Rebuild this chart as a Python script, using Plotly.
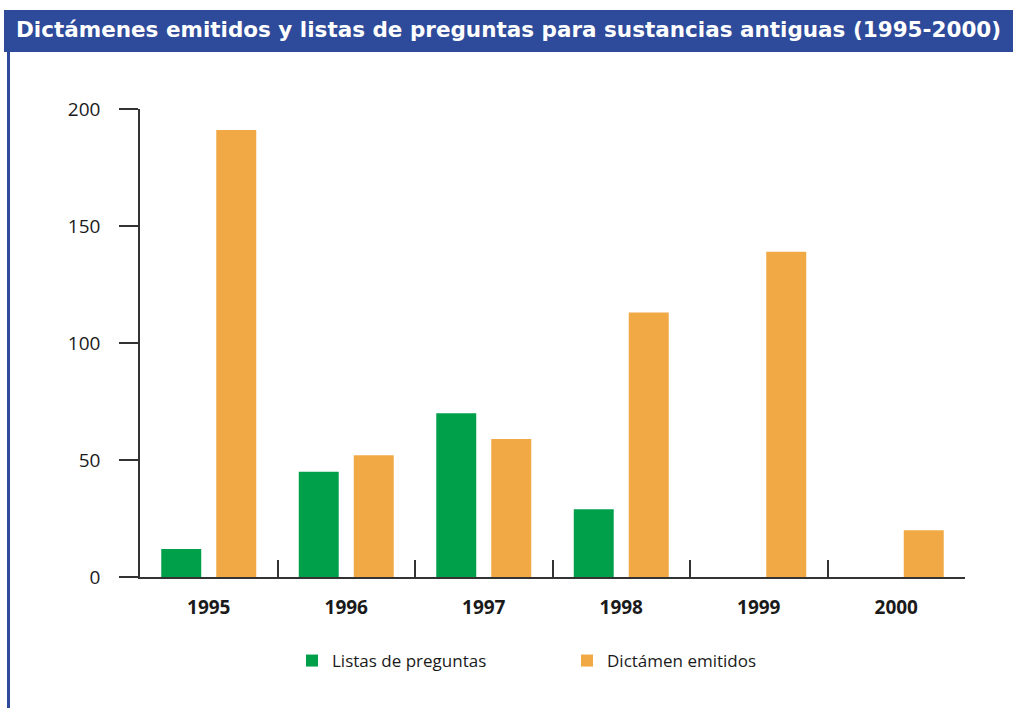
import plotly.graph_objects as go

years = ["1995", "1996", "1997", "1998", "1999", "2000"]
listas = [12, 45, 70, 29, None, None]
dictamen = [191, 52, 59, 113, 139, 20]
y_ticks = [0, 50, 100, 150, 200]

title_text = "Dictámenes emitidos y listas de preguntas para sustancias antiguas (1995-2000)"
name_listas = "Listas de preguntas"
name_dictamen = "Dictámen emitidos"

W, H = 1013, 708
L, R, T, B = 140, 48, 109, 131
pw, ph = W - L - R, H - T - B
FONT = "'Open Sans', sans-serif"


def px(x):
    return (x - L) / pw


def py(y):
    return (H - B - y) / ph


fig = go.Figure()
fig.add_trace(go.Bar(x=years, y=listas, name=name_listas, marker_color="#00A04B",
                     marker_line_width=0))
fig.add_trace(go.Bar(x=years, y=dictamen, name=name_dictamen, marker_color="#F0A944",
                     marker_line_width=0))

fig.update_layout(
    width=W, height=H,
    margin=dict(l=L, r=R, t=T, b=B, pad=0),
    paper_bgcolor="white", plot_bgcolor="white",
    barmode="group", bargap=0.2, bargroupgap=0.273,
    font=dict(family=FONT, color="#1a1a1a"),
    showlegend=True,
    legend=dict(orientation="h", x=px(292), y=py(661), xanchor="left", yanchor="middle",
                entrywidth=230, entrywidthmode="pixels",
                font=dict(size=17, color="#1a1a1a", family=FONT), bgcolor="rgba(0,0,0,0)"),
    xaxis=dict(type="category", showgrid=False, showline=True, linecolor="#333333",
               linewidth=1.5, ticks="inside", tickson="boundaries", ticklen=17,
               tickwidth=1.5, tickcolor="#333333",
               tickfont=dict(size=19, color="#1a1a1a", family=FONT, weight="bold"),
               ticklabelstandoff=12),
    yaxis=dict(range=[0, 200], tickvals=y_ticks, showgrid=False, zeroline=False,
               showline=True, linecolor="#333333", linewidth=1.5, ticks="outside",
               ticklen=19, tickwidth=1.5, tickcolor="#333333",
               tickfont=dict(size=19, color="#1a1a1a", family=FONT), ticklabelstandoff=15),
    shapes=[
        dict(type="rect", xref="paper", yref="paper", x0=px(4), x1=px(1013),
             y0=py(52), y1=py(10), fillcolor="#2E4A9A", line_width=0, layer="above"),
        dict(type="line", xref="paper", yref="paper", x0=px(8.5), x1=px(8.5),
             y0=py(708), y1=py(52), line=dict(color="#2E4A9A", width=3)),
    ],
    annotations=[
        dict(text=title_text, xref="paper", yref="paper", x=px(14), y=py(30),
             xanchor="left", yanchor="middle", showarrow=False,
             font=dict(size=21.5, color="white", family="'DejaVu Sans', sans-serif", weight="bold")),
    ],
)

fig.write_html("out.html", config={"displayModeBar": False},
               post_script="document.body.style.margin='0';document.body.style.overflow='hidden';")
